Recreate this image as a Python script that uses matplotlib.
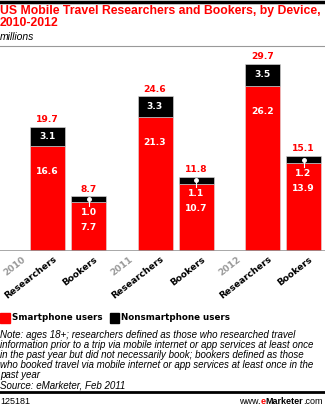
import matplotlib
matplotlib.use("Agg")
import matplotlib.pyplot as plt
from matplotlib.patches import Rectangle
from matplotlib.lines import Line2D
from matplotlib.offsetbox import TextArea, HPacker, AnchoredOffsetbox

years = ["2010", "2011", "2012"]
categories = ["Researchers", "Bookers"]
smartphone = [[16.6, 7.7], [21.3, 10.7], [26.2, 13.9]]
nonsmartphone = [[3.1, 1.0], [3.3, 1.1], [3.5, 1.2]]
totals = [[19.7, 8.7], [24.6, 11.8], [29.7, 15.1]]

W, H = 325, 408
RED = "#ff0000"
fig = plt.figure(figsize=(W / 100, H / 100), dpi=100)

def fx(x):
    return x / W

def fy(y):
    return 1 - y / H

# top rule
fig.add_artist(Line2D([0, 1], [fy(1.5), fy(1.5)], color="black", lw=2.5))
title1 = fig.text(fx(0), fy(11), "US Mobile Travel Researchers and Bookers, by Device,",
                  color=RED, fontsize=9, fontweight="bold", va="center", ha="left",
                  family="Liberation Sans")
title2 = fig.text(fx(0), fy(23.5), "2010-2012", color=RED, fontsize=9,
                  fontweight="bold", va="center", ha="left", family="Liberation Sans")
fig.canvas.draw()
r = fig.canvas.get_renderer()
tw = title1.get_window_extent(r).width
tfs = 9 * 321 / tw
title1.set_fontsize(tfs)
title2.set_fontsize(tfs)

fig.text(fx(0), fy(36.5), "millions", color="black", fontsize=7.5,
         style="italic", va="center", ha="left", family="Liberation Sans")
fig.add_artist(Line2D([0, 1], [fy(46), fy(46)], color="#999999", lw=0.8))

# chart axes
base_px, top_px = 251, 46
scale = 6.3
ax = fig.add_axes([0, fy(base_px), 1, (base_px - top_px) / H])
ax.set_xlim(0, W)
ax.set_ylim(0, (base_px - top_px) / scale)
ax.axis("off")
ax.axhline(0, color="#999999", lw=1.2)

bw = 35
FS = 6.6
for g, yr in enumerate(years):
    for j, cat in enumerate(categories):
        xc = 47.5 + g * 107.5 + j * 41
        s = smartphone[g][j]
        n = nonsmartphone[g][j]
        t = totals[g][j]
        ax.bar(xc, s, width=bw, color=RED, edgecolor="#dddddd", lw=0.4)
        ax.bar(xc, n, bottom=s, width=bw, color="black", edgecolor="#dddddd", lw=0.4)
        ax.text(xc, t + 1.1, f"{t:.1f}", color=RED, fontsize=FS,
                fontweight="bold", ha="center", va="center")
        ax.text(xc, s - 4.0, f"{s:.1f}", color="white", fontsize=FS,
                fontweight="bold", ha="center", va="center")
        if j == 0:
            ax.text(xc, s + n / 2, f"{n:.1f}", color="white", fontsize=FS,
                    fontweight="bold", ha="center", va="center")
        else:
            ax.plot([xc, xc], [s + n / 2, s - 0.5], color="white", lw=0.8)
            ax.plot([xc], [s + n / 2], "o", color="white", ms=2.5)
            ax.text(xc, s - 1.65, f"{n:.1f}", color="white", fontsize=FS,
                    fontweight="bold", ha="center", va="center")
        ax.text(xc + 5, -0.6, cat, rotation=38, rotation_mode="anchor",
                ha="right", va="top", fontsize=FS, fontweight="bold",
                color="black")
    xr = 47.5 + g * 107.5
    ax.text(xr - 26, -0.6, yr, rotation=38, rotation_mode="anchor",
            ha="right", va="top", fontsize=FS, fontweight="bold",
            color="#999999")

# legend
fig.add_artist(Rectangle((fx(0), fy(323)), fx(10), 10 / H, color=RED,
                         transform=fig.transFigure))
fig.text(fx(12), fy(318), "Smartphone users", fontsize=6.3,
         fontweight="bold", va="center", ha="left")
fig.add_artist(Rectangle((fx(110), fy(323)), fx(9), 10 / H, color="black",
                         transform=fig.transFigure))
fig.text(fx(121), fy(318), "Nonsmartphone users", fontsize=6.3,
         fontweight="bold", va="center", ha="left")

note = ("Note: ages 18+; researchers defined as those who researched travel\n"
        "information prior to a trip via mobile internet or app services at least once\n"
        "in the past year but did not necessarily book; bookers defined as those\n"
        "who booked travel via mobile internet or app services at least once in the\n"
        "past year\n"
        "Source: eMarketer, Feb 2011")
fig.text(fx(0), fy(330), note, fontsize=7.0, style="italic",
         family="Liberation Sans", va="top", ha="left", linespacing=1.0)

fig.add_artist(Line2D([0, 1], [fy(392), fy(392)], color="black", lw=2))
fig.text(fx(0), fy(401), "125181", fontsize=6.5, family="Liberation Sans",
         va="center", ha="left")

# footer url: www. + red e + Marketer.com
pieces = [("www.", "black", "normal"), ("e", RED, "bold"),
          ("Marketer", "black", "bold"), (".com", "black", "normal")]
areas = [TextArea(s, textprops=dict(fontsize=6.5, color=c, fontweight=wt,
                                    family="Liberation Sans"))
         for s, c, wt in pieces]
box = HPacker(children=areas, align="baseline", pad=0, sep=0)
anchored = AnchoredOffsetbox(loc="lower right", child=box, pad=0, borderpad=0,
                             frameon=False, bbox_to_anchor=(fx(323), fy(406)),
                             bbox_transform=fig.transFigure)
fig.add_artist(anchored)

fig.savefig("out.png", dpi=100)
